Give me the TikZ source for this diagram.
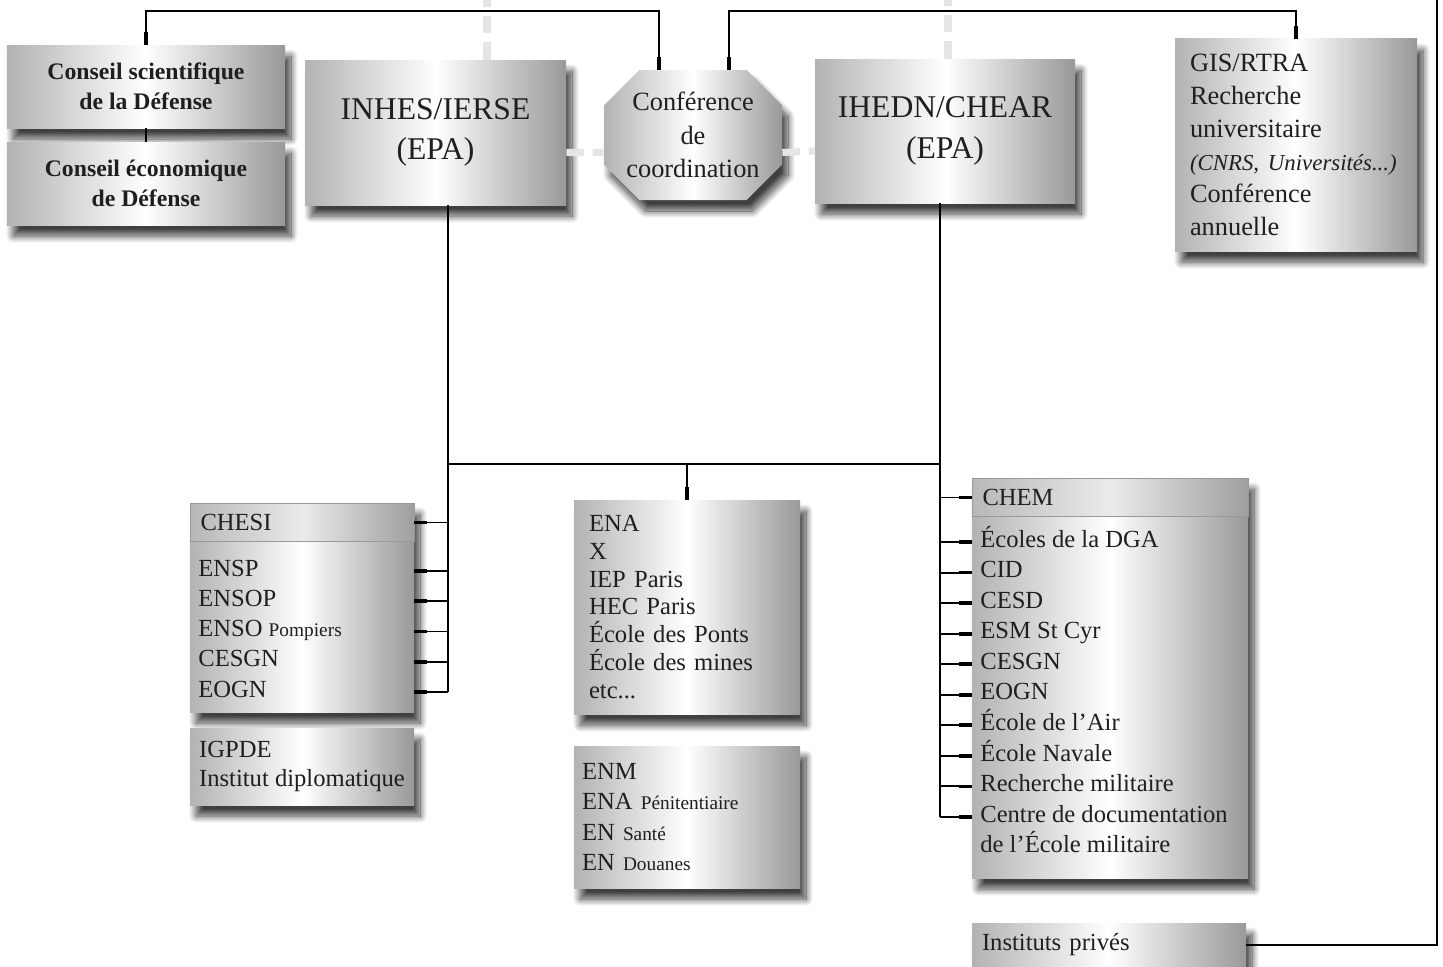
\documentclass[tikz,border=0pt]{standalone}
\usepackage{fontspec}
\setmainfont{Liberation Serif}
\usepackage{tikz}
\usetikzlibrary{arrows.meta,positioning,shapes.misc,shadows.blur}
\tikzset{box/.style={rectangle,inner sep=0pt,text=black!88,left color=black!30,right color=black!40,middle color=white,
    blur shadow={shadow xshift=0.12cm,shadow yshift=-0.22cm,shadow opacity=75,shadow blur radius=0.14cm,shadow blur steps=16}}}
\tikzset{header/.style={rectangle,anchor=north west,inner xsep=0.2cm,inner ysep=0pt,align=left,text=black!88,
    draw=black!40,line width=1pt,left color=black!28,right color=black!38,middle color=white!92!black}}
\tikzset{item/.style={anchor=west,inner sep=0pt,text height=1.6ex,text depth=0.3ex,text=black!88}}
\tikzset{link/.style={line width=1.1pt}}
\tikzset{stub/.style={line width=1.1pt,-{Rectangle[length=7pt,width=2.1pt]}}}
\tikzset{duo/.style={line width=1.1pt,{Rectangle[length=7pt,width=2.1pt]}-{Rectangle[length=7pt,width=2.1pt]}}}
\tikzset{ghost/.style={line width=4pt,black!10,dash pattern=on 10pt off 5pt}}
\newcommand{\Ssmall}[1]{{\fontsize{11}{12}\selectfont #1}}
\newcommand{\Snarrow}[1]{\makebox[2.36cm]{#1}}

\begin{document}
\begin{tikzpicture}[font=\fontsize{14}{17}\selectfont]
\useasboundingbox (0,0) rectangle (28.86,-19.34);
% upper row
\node (cs) [box,minimum width=5.56cm,minimum height=1.66cm,align=center,font=\bfseries\fontsize{13.5}{17}\selectfont] at (2.92,-1.73) {Conseil scientifique\\de la Défense};
\node (ce) [box,minimum width=5.56cm,minimum height=1.66cm,align=center,font=\bfseries\fontsize{13.5}{17}\selectfont] at (2.92,-3.67) {Conseil économique\\de Défense};
\node (inhes) [box,minimum width=5.22cm,minimum height=2.90cm,align=center,font=\fontsize{18}{23}\selectfont] at (8.71,-2.65) {INHES/IERSE\\(EPA)};
\node (conf) [box,chamfered rectangle,chamfered rectangle xsep=0.6cm,minimum height=2.60cm,align=center,font=\fontsize{15}{19}\selectfont] at (13.86,-2.70) {\Snarrow{Conférence}\\de\\\Snarrow{coordination}};
\node (ihedn) [box,minimum width=5.20cm,minimum height=2.88cm,align=center,font=\fontsize{18}{23}\selectfont] at (18.90,-2.62) {IHEDN/CHEAR\\(EPA)};
\node (gis) [box,minimum width=4.84cm,minimum height=4.24cm,text width=4.24cm,align=left,font=\fontsize{15}{18.7}\selectfont] at (25.92,-2.90) {GIS/RTRA\\Recherche\\universitaire\\{\itshape\fontsize{13}{18.7}\selectfont (CNRS, Universités...)}\\Conférence\\annuelle};
%
\path[ghost] ([xshift=1.03cm]inhes.north) edge ++(0,1.3);
\path[ghost] ([xshift=0.06cm]ihedn.north) edge ++(0,1.3);
\path[ghost] ([yshift=-0.4cm]inhes.east) edge ([yshift=-0.35cm]conf.west);
\path[ghost] ([yshift=-0.35cm]conf.east) edge ([yshift=-0.4cm]ihedn.west);
% lower boxes
\node (chesi) [box,minimum width=4.48cm,minimum height=4.18cm] at (6.04,-12.15) {};
\node (chesihd) [header,minimum width=4.48cm,minimum height=0.76cm,text width=4.08cm] at (chesi.north west) {CHESI};
\foreach \t [count=\i] in {ENSP,ENSOP,ENSO \Ssmall{Pompiers},CESGN,EOGN}
  \node (chesi\i) [item] at (3.96,{-11.42-0.605*(\i-1)}) {\t};
\node (igpde) [box,minimum width=4.48cm,minimum height=1.54cm,align=left] at (6.04,-15.33) {IGPDE\\Institut diplomatique};
\node (ena) [box,minimum width=4.52cm,minimum height=4.28cm,text width=3.92cm,align=left,font=\fontsize{14}{15.9}\selectfont] at (13.74,-12.14) {ENA\\X\\IEP Paris\\HEC Paris\\École des Ponts\\École des mines\\etc...};
\node (enm) [box,minimum width=4.52cm,minimum height=2.84cm,text width=4.20cm,align=left,font=\fontsize{14}{17.4}\selectfont] at (13.74,-16.34) {ENM\\ENA \Ssmall{Pénitentiaire}\\EN \Ssmall{Santé}\\EN \Ssmall{Douanes}};
\node (chem) [box,minimum width=5.52cm,minimum height=8.00cm] at (22.20,-13.56) {};
\node (chemhd) [header,minimum width=5.52cm,minimum height=0.76cm,text width=5.12cm] at (chem.north west) {CHEM};
\foreach \t [count=\i] in {Écoles de la DGA,CID,CESD,ESM St Cyr,CESGN,EOGN,École de l'Air,École Navale,Recherche militaire,Centre de documentation,de l'École militaire}
  \node (chem\i) [item] at (19.60,{-10.84-0.611*(\i-1)}) {\t};
\node (prives) [box,minimum width=5.48cm,minimum height=0.88cm,text width=5.08cm,align=left] at (22.18,-18.90) {Instituts privés};
% connectors
\coordinate (tl) at (13.18,-0.22);
\coordinate (tr) at (14.58,-0.22);
\coordinate (lbus) at (8.96,-9.28);
\coordinate (rbus) at (18.80,-9.28);
\coordinate (exit) at (28.74,0.2);
\draw[duo] (cs.north) |- (tl) -- (tl |- conf.north);
\draw[duo] (tr |- conf.north) -- (tr) -| (gis.north);
\draw[link] (cs.south) -- (ce.north);
\draw[stub,<-] (exit) |- (prives.east);
\draw[link] (lbus |- inhes.south) -- (lbus |- chesi5);
\draw[link] (rbus |- ihedn.south) -- (rbus |- chem10);
\draw[link] (lbus) -- (rbus);
\path[stub] (ena.north |- lbus) edge (ena.north);
\path[stub] (lbus |- chesihd) edge (chesi.east |- chesihd);
\foreach \i in {1,...,5} \path[stub] (lbus |- chesi\i) edge (chesi.east |- chesi\i);
\path[stub] (rbus |- chemhd) edge (chem.west |- chemhd);
\foreach \i in {1,...,10} \path[stub] (rbus |- chem\i) edge (chem.west |- chem\i);
\end{tikzpicture}
\end{document}
